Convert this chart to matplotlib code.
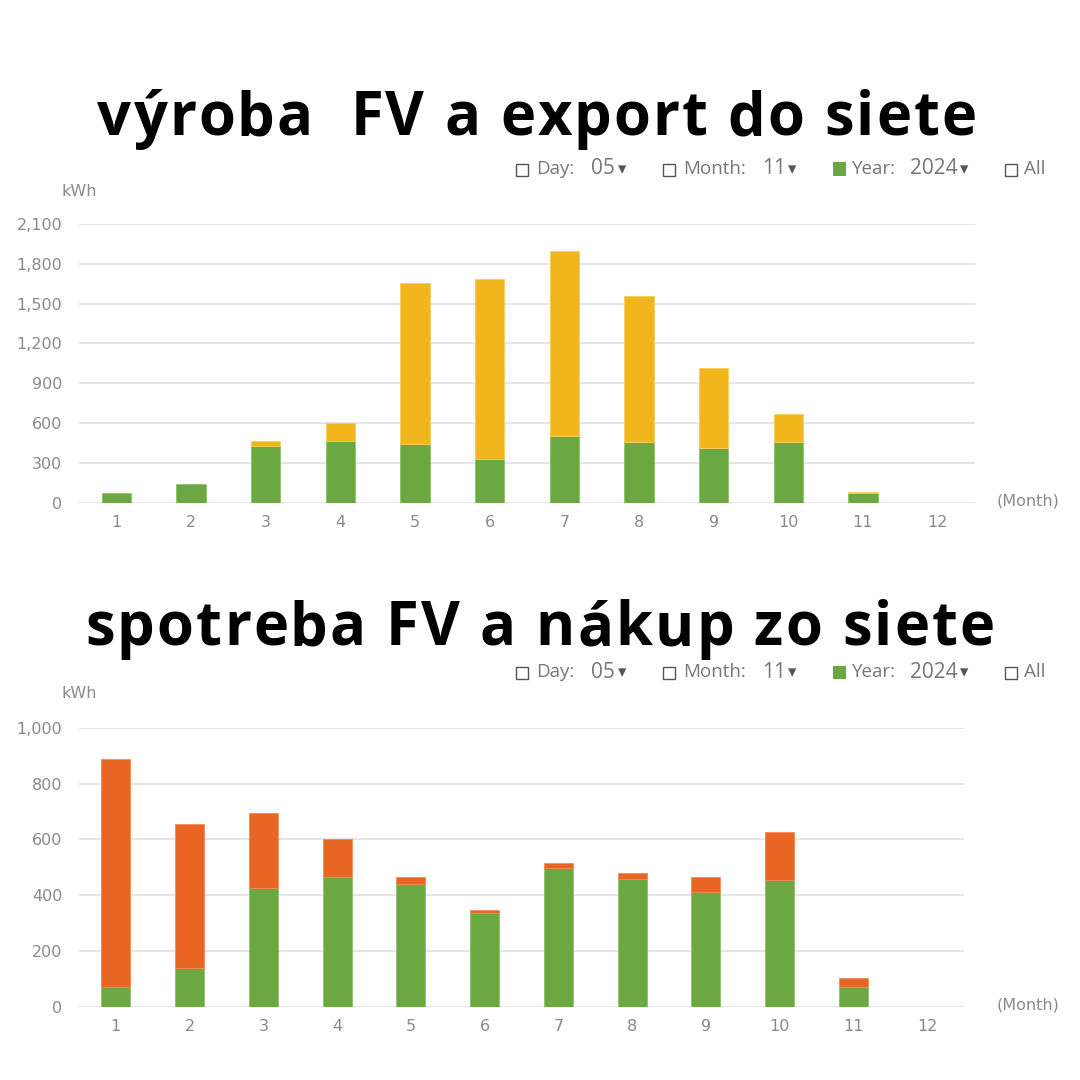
import matplotlib
matplotlib.use("Agg")
import matplotlib.pyplot as plt
from matplotlib.patches import Rectangle
from matplotlib.ticker import FuncFormatter

months = list(range(1, 13))

# výroba: self-consumption (green) + export (yellow)
vyroba_vlastna = [75, 140, 426, 466, 444, 333, 499, 456, 411, 454, 70, 0]
vyroba_export = [0, 0, 40, 131, 1213, 1354, 1401, 1098, 604, 213, 10, 0]

# spotreba: from PV (green) + bought from grid (orange)
spotreba_fv = [72, 139, 427, 465, 442, 335, 499, 459, 412, 453, 71, 0]
spotreba_nakup = [815, 517, 268, 135, 22, 13, 17, 19, 53, 175, 33, 0]

top_yticks = [0, 300, 600, 900, 1200, 1500, 1800, 2100]
bot_yticks = [0, 200, 400, 600, 800, 1000]

title_top = "výroba  FV a export do siete"
title_bot = "spotreba FV a nákup zo siete"

GREEN = "#6ca842"
YELLOW = "#f2b61d"
ORANGE = "#e86524"
GRID = "#e2e2e2"
LABEL = "#8a8a8a"

W = 1080.0
fig = plt.figure(figsize=(10.8, 10.8), dpi=100)
renderer = fig.canvas.get_renderer()


def fx(x):
    return x / W


def fy(y):
    return 1 - y / W


def text_width(s, **kw):
    t = fig.text(0, 0, s, **kw)
    w = t.get_window_extent(renderer).width
    t.remove()
    return w


def tracked_title(s, cx, baseline, total_w):
    # the headline is letter-spaced, so place glyphs one by one
    kw = dict(fontsize=43, fontweight="bold", family="Open Sans", color="black")
    w = text_width(s, **kw)
    track = (total_w - w) / (len(s) - 1)
    x0 = cx - total_w / 2
    for i, ch in enumerate(s):
        if ch == " ":
            continue
        off = text_width(s[:i], **kw) if i else 0
        fig.text(fx(x0 + off + i * track), fy(baseline), ch, ha="left", va="baseline", **kw)


def make_axes(left, right, y0, ytop):
    return fig.add_axes([fx(left), fy(y0), (right - left) / W, (y0 - ytop) / W])


def style_axes(ax, yticks):
    ax.set_xlim(0.5, 12.5)
    ax.set_ylim(yticks[0], yticks[-1])
    ax.set_yticks(yticks)
    ax.set_xticks(months)
    ax.yaxis.set_major_formatter(FuncFormatter(lambda v, p: f"{int(v):,}"))
    ax.grid(axis="y", color=GRID, linewidth=1.2)
    ax.set_axisbelow(True)
    for s in ax.spines.values():
        s.set_visible(False)
    ax.tick_params(length=0, colors=LABEL, labelsize=11.5)
    ax.tick_params(axis="y", pad=12)
    ax.tick_params(axis="x", pad=9)


def stacked(ax, low, high, top_color, top_edge):
    lw_low = [0.6 if v > 0 else 0 for v in low]
    lw_high = [0.6 if v > 0 else 0 for v in high]
    ax.bar(months, low, width=0.39, color=GREEN, edgecolor="#8cc36a", linewidth=lw_low)
    ax.bar(months, high, width=0.39, bottom=low, color=top_color, edgecolor=top_edge,
           linewidth=lw_high)


def box(x, y, filled=False):
    if filled:
        r = Rectangle((fx(x), fy(y + 6.5)), 13 / W, 13 / W, transform=fig.transFigure,
                      facecolor=GREEN, linewidth=0)
    else:
        r = Rectangle((fx(x), fy(y + 6.5)), 12 / W, 12 / W, transform=fig.transFigure,
                      fill=False, edgecolor="#555555", linewidth=1)
    fig.patches.append(r)


def controls(y):
    fs = 13.5
    lab = dict(color="#777777", fontsize=fs, va="center", family="Open Sans")
    num = dict(color="#777777", fontsize=15, va="center", family="Open Sans")
    arr = dict(color="#555555", fontsize=12, va="center")
    box(516, y)
    fig.text(fx(536), fy(y), "Day:", **lab)
    fig.text(fx(591), fy(y), "05", **num)
    fig.text(fx(618), fy(y), "▾", **arr)
    box(663, y)
    fig.text(fx(683), fy(y), "Month:", **lab)
    fig.text(fx(762), fy(y), "11", **num)
    fig.text(fx(788), fy(y), "▾", **arr)
    box(833, y, filled=True)
    fig.text(fx(852), fy(y), "Year:", **lab)
    fig.text(fx(910), fy(y), "2024", **num)
    fig.text(fx(960), fy(y), "▾", **arr)
    box(1005, y)
    fig.text(fx(1024), fy(y), "All", **lab)


# ---- top chart: production & export
tracked_title(title_top, 537, 135, 880)
controls(169)
ax1 = make_axes(79, 975, 502.7, 224)
stacked(ax1, vyroba_vlastna, vyroba_export, YELLOW, "#f7cf5a")
style_axes(ax1, top_yticks)
fig.text(fx(79), fy(191), "kWh", color=LABEL, fontsize=11.5, ha="center", va="center")
fig.text(fx(997), fy(501), "(Month)", color=LABEL, fontsize=11.5, ha="left", va="center")

# ---- bottom chart: consumption & purchase
tracked_title(title_bot, 540, 645, 910)
controls(672)
ax2 = make_axes(79, 964, 1006.7, 728)
stacked(ax2, spotreba_fv, spotreba_nakup, ORANGE, "#f28a55")
style_axes(ax2, bot_yticks)
fig.text(fx(79), fy(694), "kWh", color=LABEL, fontsize=11.5, ha="center", va="center")
fig.text(fx(997), fy(1005), "(Month)", color=LABEL, fontsize=11.5, ha="left", va="center")

fig.savefig("out.png", dpi=100, facecolor="white")
